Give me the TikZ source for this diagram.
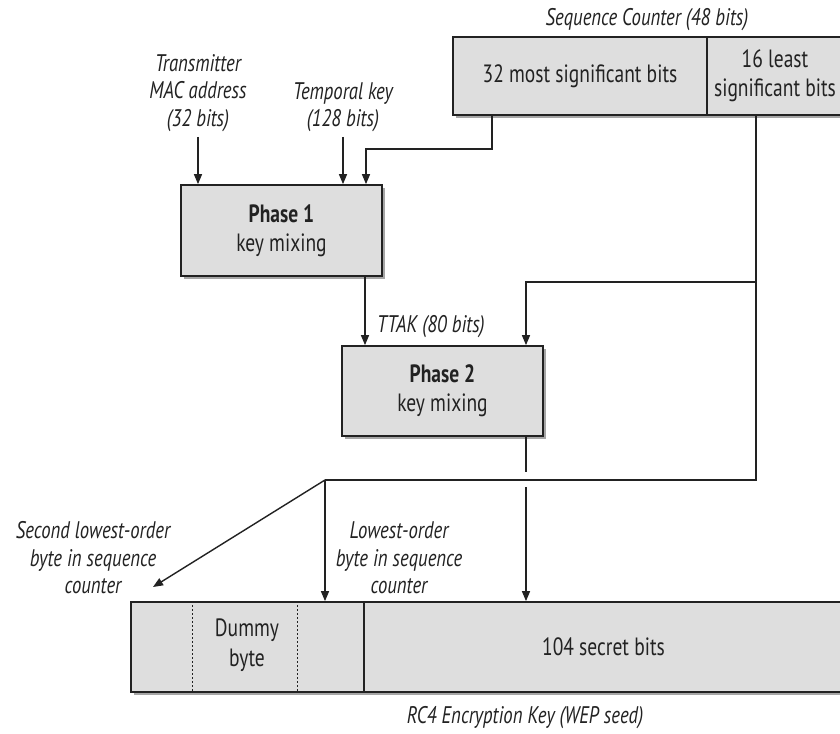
\documentclass[tikz,border=0pt]{standalone}
\usepackage{fontspec}
\setmainfont{PT Sans}[FakeStretch=0.78]
\usetikzlibrary{arrows.meta,shadows}
\definecolor{boxfill}{HTML}{DEDEDE}
\definecolor{ink}{HTML}{222222}
\begin{document}
\begin{tikzpicture}[x=1pt,y=1pt,
  font=\fontsize{25}{29}\selectfont, text=ink,
  cell/.style={draw=ink, line width=1.7pt, fill=boxfill, inner sep=0pt, align=center,
    drop shadow={shadow xshift=3pt, shadow yshift=-3pt, fill=black!35, opacity=1}},
  lbl/.style={font=\fontsize{24}{27.5}\selectfont\itshape, align=center, inner sep=0pt},
  wire/.style={draw=ink, line width=1.4pt},
  arr/.style={wire, -{Triangle[length=10pt,width=8pt]}}]
\useasboundingbox (0,0) rectangle (840,-733);
\fill[white] (0,0) rectangle (840,-733);

% Sequence counter
\node[lbl] (seqlbl) at (647,-20) {Sequence Counter (48 bits)};
\node[cell, minimum width=254pt, minimum height=78pt] (msb) at (580,-76) {32 most significant bits};
\node[cell, minimum width=136pt, minimum height=78pt] (lsb) at (775,-76) {16 least\\significant bits};

% inputs
\node[lbl] (mac) at (198,-93) {Transmitter\\MAC address\\(32 bits)};
\node[lbl] (tk) at (343,-107) {Temporal key\\(128 bits)};

% phases
\node[cell, minimum width=201pt, minimum height=91pt] (p1) at (281.5,-230.5) {\textbf{Phase 1}\\key mixing};
\node[cell, minimum width=201pt, minimum height=90pt] (p2) at (442.5,-391) {\textbf{Phase 2}\\key mixing};
\node[lbl, anchor=west] (ttak) at (377,-327) {TTAK (80 bits)};

% key
\node[cell, minimum width=233pt, minimum height=90pt] (kl) at (247.5,-647) {};
\node[font=\fontsize{25}{30}\selectfont, align=center] (dummy) at (247,-645) {Dummy\\byte};
\node[cell, minimum width=479pt, minimum height=90pt] (kr) at (603.5,-647) {104 secret bits};
\draw[ink, line width=1.2pt, dash pattern=on 2pt off 2pt] ([xshift=62pt]kl.north west) -- ([xshift=62pt]kl.south west);
\draw[ink, line width=1.2pt, dash pattern=on 2pt off 2pt] ([xshift=167pt]kl.north west) -- ([xshift=167pt]kl.south west);
\node[lbl] (rc4) at (525,-718) {RC4 Encryption Key (WEP seed)};

\node[lbl] (second) at (93,-558) {Second lowest-order\\byte in sequence\\counter};
\node[lbl] (lowest) at (399,-558) {Lowest-order\\byte in sequence\\counter};

% coordinates
\coordinate (c1) at (492,-149);
\coordinate (c2) at (366,-149);
\coordinate (b1) at (756,-282);
\coordinate (b2) at (526,-282);
\coordinate (b3) at (756,-480);
\coordinate (b4) at (325,-480);
\coordinate (g1) at (526,-472);
\coordinate (g2) at (526,-487);
\coordinate (d1) at (153,-587);

% connectors
\draw[arr] ([yshift=-5pt]mac.south) -- (mac.south |- p1.north);
\draw[arr] ([yshift=-5pt]tk.south) -- (tk.south |- p1.north);
\draw[arr] (c1 |- msb.south) -- (c1) -- (c2) -- (c2 |- p1.north);
\draw[wire] (b1 |- lsb.south) -- (b3) -- (b4);
\draw[arr] (b1) -- (b2) -- (b2 |- p2.north);
\draw[arr] (p1.south -| 365,0) -- (p2.north -| 365,0);
\draw[wire] (g1 |- p2.south) -- (g1);
\draw[arr] (g2) -- (g2 |- kr.north);
\draw[arr] (b4) -- (b4 |- kl.north);
\draw[arr] (b4) -- (d1);
\end{tikzpicture}
\end{document}
